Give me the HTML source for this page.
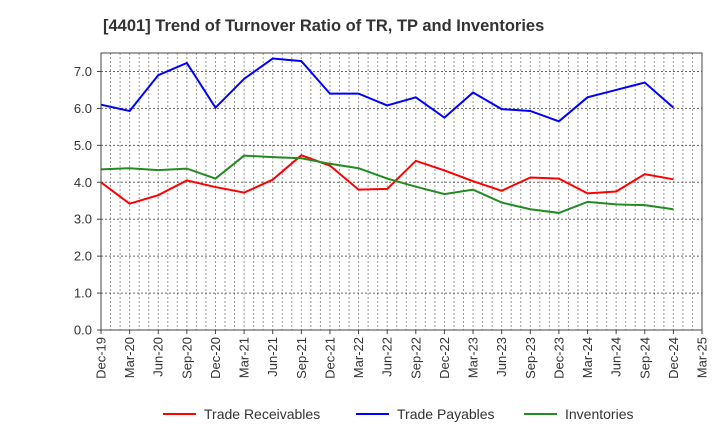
<!DOCTYPE html>
<html><head><meta charset="utf-8"><style>
body{margin:0;background:#fff;}
svg text{font-family:"Liberation Sans",sans-serif;}
</style></head><body>
<svg id="chart" width="720" height="440">
<text x="103" y="31" font-size="16.5" font-weight="bold" fill="#333">[4401]  Trend of Turnover Ratio of TR, TP and Inventories</text>
<g id="grid"></g>
<g id="series"></g>
<rect x="101" y="53" width="601" height="277" fill="none" stroke="#444" stroke-width="1"/>
<g id="axes"></g>
<g id="legend"></g>
</svg>
<script>
const categories=["Dec-19","Mar-20","Jun-20","Sep-20","Dec-20","Mar-21","Jun-21","Sep-21","Dec-21","Mar-22","Jun-22","Sep-22","Dec-22","Mar-23","Jun-23","Sep-23","Dec-23","Mar-24","Jun-24","Sep-24","Dec-24","Mar-25"];
const tradeReceivables=[4.0,3.42,3.65,4.05,3.87,3.72,4.07,4.73,4.45,3.8,3.82,4.58,4.32,4.03,3.77,4.13,4.1,3.7,3.75,4.22,4.08];
const tradePayables=[6.1,5.93,6.9,7.23,6.02,6.8,7.35,7.28,6.4,6.4,6.08,6.3,5.75,6.43,5.98,5.93,5.65,6.3,6.5,6.7,6.02];
const inventories=[4.35,4.38,4.33,4.37,4.1,4.72,4.68,4.65,4.5,4.38,4.1,3.88,3.68,3.8,3.45,3.27,3.17,3.47,3.4,3.38,3.27];
const yTicks=["0.0","1.0","2.0","3.0","4.0","5.0","6.0","7.0"];
const NS="http://www.w3.org/2000/svg";
const L=101,R=702,T=53,B=330,YMAX=7.5;
const x=i=>L+(R-L)*i/(categories.length-1);
const y=v=>B-(B-T)*v/YMAX;
function mk(tag,attrs,parent){const e=document.createElementNS(NS,tag);for(const k in attrs)e.setAttribute(k,attrs[k]);parent.appendChild(e);return e;}
const grid=document.getElementById('grid'),axes=document.getElementById('axes'),ser=document.getElementById('series'),leg=document.getElementById('legend');
for(let m=1;m<(categories.length-1)*3;m++){const xx=L+(R-L)*m/((categories.length-1)*3);
 const l=mk('line',{x1:xx,x2:xx,y1:T,y2:B,stroke:'#999','stroke-width':1,'stroke-dasharray':'2,2'},grid);
 }
yTicks.forEach(t=>{const v=parseFloat(t),yy=y(v);
 if(v>0){const l=mk('line',{x1:L,x2:R,y1:yy,y2:yy,stroke:'#666','stroke-width':1,'stroke-dasharray':'2,2'},grid);
 }
 const tx=mk('text',{x:L-9,y:yy+4.5,'font-size':13,'text-anchor':'end',fill:'#333'},axes);tx.textContent=t;
 
 mk('line',{x1:L-4,x2:L,y1:yy,y2:yy,stroke:'#444'},axes);});
categories.forEach((c,i)=>{const xx=x(i);
 mk('line',{x1:xx,x2:xx,y1:B,y2:B+4,stroke:'#444'},axes);
 const tx=mk('text',{x:0,y:0,'font-size':13,'text-anchor':'end',fill:'#333',transform:`translate(${xx+4.5},${B+7}) rotate(-90)`},axes);tx.textContent=c;
 });
const S=[["Trade Receivables",tradeReceivables,"#ff0000",163],["Trade Payables",tradePayables,"#0000ff",356],["Inventories",inventories,"#228b22",524]];
S.forEach(([n,d,c,lx])=>{
 const p=mk('polyline',{points:d.map((v,i)=>x(i)+','+y(v)).join(' '),fill:'none',stroke:c,'stroke-width':2},ser);
 
 const g=mk('g',{},leg);
 mk('line',{x1:lx,x2:lx+33,y1:414,y2:414,stroke:c,'stroke-width':2},g);
 const t=mk('text',{x:lx+41,y:419,'font-size':14,fill:'#333'},g);t.textContent=n;});
</script>
</body></html>
